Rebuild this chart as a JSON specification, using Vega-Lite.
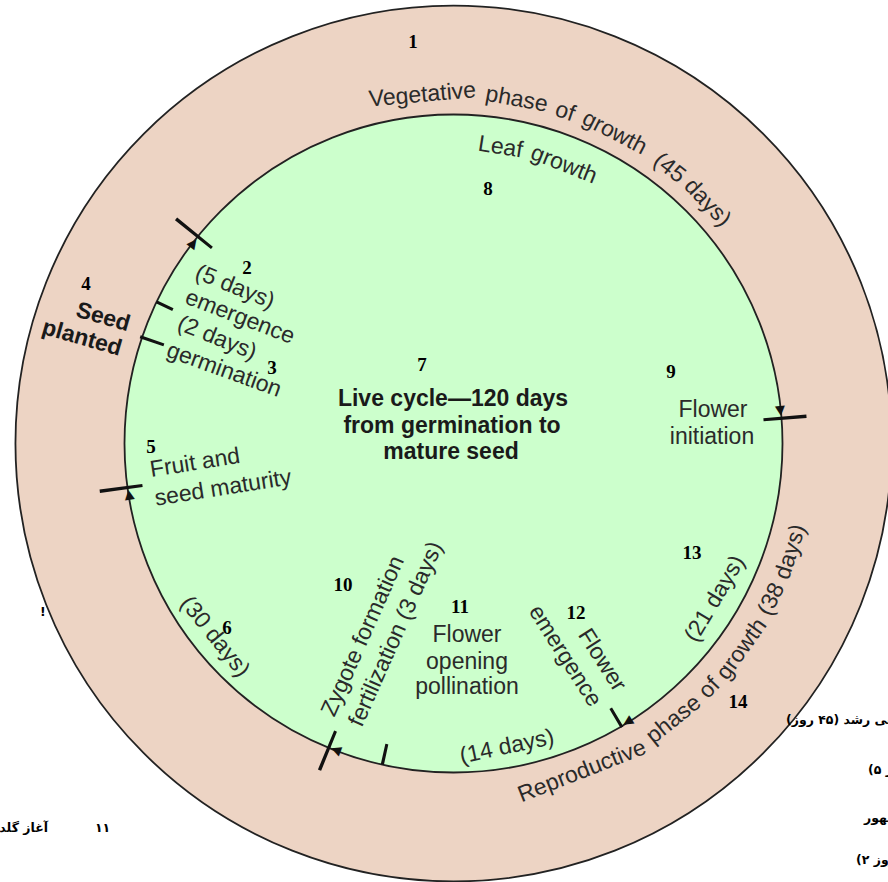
{
  "$schema": "https://vega.github.io/schema/vega-lite/v6.json",
  "autosize": {"type": "none"},
  "width": 869,
  "height": 877,
  "padding": {"left": 19, "top": 5, "right": 0, "bottom": 0},
  "background": "white",
  "config": {"view": {"stroke": null}},
  "datasets": {
    "rings": [
      {"ring": "outer", "t": 0, "t2": 360, "r0": 0, "r": 133.1},
      {"ring": "inner", "t": 0, "t2": 360, "r0": 0, "r": 100}
    ],
    "ticks": [
      {"t": 308.72, "t2": 309.28, "r0": 94.5, "r": 108.5},
      {"t": 295.22, "t2": 295.78, "r0": 94.5, "r": 100},
      {"t": 288.52, "t2": 289.08, "r0": 93.0, "r": 100.6},
      {"t": 85.32, "t2": 85.88, "r0": 94.5, "r": 107.6},
      {"t": 149.02, "t2": 149.58, "r0": 93.6, "r": 100.3},
      {"t": 192.22, "t2": 192.78, "r0": 93.6, "r": 100},
      {"t": 202.02, "t2": 202.58, "r0": 94.5, "r": 107.3},
      {"t": 262.02, "t2": 262.58, "r0": 95.4, "r": 108.5}
    ],
    "arrows": [
      {"t": 307.6, "r": 100},
      {"t": 84.3, "r": 100},
      {"t": 148.0, "r": 100},
      {"t": 201.0, "r": 100},
      {"t": 261.0, "r": 100}
    ],
    "arcText": [
      {"text": "Vegetative", "t": 354.9, "r": 106.4, "rot": -5.1},
      {"text": "phase", "t": 10.4, "r": 106.4, "rot": 10.4},
      {"text": "of", "t": 18.6, "r": 106.4, "rot": 18.6},
      {"text": "growth", "t": 27.4, "r": 106.4, "rot": 27.4},
      {"text": "(45", "t": 38.1, "r": 106.4, "rot": 38.1},
      {"text": "days)", "t": 46.5, "r": 106.4, "rot": 46.5},
      {"text": "Leaf", "t": 9.0, "r": 91.2, "rot": 9.0},
      {"text": "growth", "t": 21.6, "r": 91.2, "rot": 21.6},
      {"text": "Reproductive", "t": 158.6, "r": 107.0, "rot": -21.4},
      {"text": "phase", "t": 141.4, "r": 107.3, "rot": -38.6},
      {"text": "of", "t": 133.7, "r": 107.6, "rot": -46.3},
      {"text": "growth", "t": 125.5, "r": 107.6, "rot": -54.5},
      {"text": "(38", "t": 116.1, "r": 107.6, "rot": -63.9},
      {"text": "days)", "t": 107.8, "r": 107.6, "rot": -72.2},
      {"text": "(30 days)", "t": 231, "r": 93.3, "rot": 51},
      {"text": "(21 days)", "t": 120.7, "r": 92.4, "rot": -59.3},
      {"text": "(14 days)", "t": 170, "r": 93.6, "rot": -12}
    ],
    "labels": [
      {"text": "(5 days)", "x": -66.41, "y": 47.57, "rot": 22},
      {"text": "emergence", "x": -64.89, "y": 38.45, "rot": 21},
      {"text": "(2 days)", "x": -71.88, "y": 32.07, "rot": 22},
      {"text": "germination", "x": -69.76, "y": 22.34, "rot": 20},
      {"text": "Fruit and", "x": -78.57, "y": -5.93, "rot": -9},
      {"text": "seed maturity", "x": -70.06, "y": -13.53, "rot": -9},
      {"text": "Flower", "x": 78.88, "y": 10.18, "rot": 0},
      {"text": "initiation", "x": 78.57, "y": 1.98, "rot": 0},
      {"text": "Flower", "x": 4.10, "y": -58.21, "rot": 0},
      {"text": "opening", "x": 4.10, "y": -66.41, "rot": 0},
      {"text": "pollination", "x": 4.10, "y": -74.01, "rot": 0},
      {"text": "Zygote formation", "x": -27.51, "y": -58.51, "rot": -66},
      {"text": "fertilization (3 days)", "x": -17.48, "y": -57.90, "rot": -66},
      {"text": "emergence", "x": 33.89, "y": -64.59, "rot": 57.5},
      {"text": "Flower", "x": 45.14, "y": -65.81, "rot": 57.5}
    ],
    "bold": [
      {"text": "Seed", "x": -106.53, "y": 38.45, "rot": 16},
      {"text": "planted", "x": -112.92, "y": 32.07, "rot": 16},
      {"text": "Live cycle—120 days", "x": -0.15, "y": 13.53, "rot": 0},
      {"text": "from germination to", "x": -0.46, "y": 5.32, "rot": 0},
      {"text": "mature seed", "x": -0.76, "y": -2.58, "rot": 0}
    ],
    "nums": [
      {"text": "1", "x": -12.31, "y": 122.04},
      {"text": "8", "x": 10.49, "y": 77.36},
      {"text": "2", "x": -62.77, "y": 53.34},
      {"text": "4", "x": -111.70, "y": 48.48},
      {"text": "3", "x": -55.17, "y": 22.95},
      {"text": "7", "x": -9.57, "y": 23.86},
      {"text": "9", "x": 66.11, "y": 21.73},
      {"text": "5", "x": -91.95, "y": -1.06},
      {"text": "13", "x": 72.49, "y": -33.28},
      {"text": "10", "x": -33.59, "y": -42.96},
      {"text": "6", "x": -68.84, "y": -56.00},
      {"text": "11", "x": 1.98, "y": -49.70},
      {"text": "12", "x": 37.23, "y": -51.52},
      {"text": "14", "x": 86.47, "y": -78.57}
    ],
    "farsiLeft": [
      {"text": "گیاهی رشد (۴۵ روز)", "x": 101.06, "y": -84.04},
      {"text": "(۵ روز)", "x": 125.99, "y": -99.24},
      {"text": "ظهور", "x": 124.77, "y": -113.83},
      {"text": "(۲ روز)", "x": 122.34, "y": -126.60},
      {"text": "۱۱", "x": -109.0, "y": -116.87},
      {"text": "!", "x": -125.7, "y": -51.2}
    ],
    "farsiRight": [
      {"text": "آغاز گلدهی", "x": -123.25, "y": -116.87}
    ]
  },
  "layer": [
    {
      "data": {"name": "rings"},
      "mark": {"type": "arc", "stroke": "#222", "strokeWidth": 1.8},
      "encoding": {
        "theta": {"field": "t", "type": "quantitative", "stack": null, "scale": {"domain": [0, 360], "range": [0, 6.283185307179586]}},
        "theta2": {"field": "t2"},
        "radius": {"field": "r", "type": "quantitative", "scale": {"type": "linear", "domain": [0, 100], "range": [0, 329], "zero": true, "nice": false}},
        "radius2": {"field": "r0"},
        "color": {"field": "ring", "type": "nominal", "scale": {"domain": ["outer", "inner"], "range": ["#EDD4C4", "#CCFFCC"]}, "legend": null}
      }
    },
    {
      "data": {"name": "ticks"},
      "mark": {"type": "arc", "color": "#111"},
      "encoding": {
        "theta": {"field": "t", "type": "quantitative", "stack": null, "scale": {"domain": [0, 360], "range": [0, 6.283185307179586]}},
        "theta2": {"field": "t2"},
        "radius": {"field": "r", "type": "quantitative", "scale": {"type": "linear", "domain": [0, 100], "range": [0, 329], "zero": true, "nice": false}},
        "radius2": {"field": "r0"}
      }
    },
    {
      "data": {"name": "arrows"},
      "mark": {"type": "text", "text": "▶", "font": "DejaVu Sans", "fontSize": 13, "color": "#111", "align": "center", "baseline": "middle"},
      "encoding": {
        "theta": {"field": "t", "type": "quantitative", "stack": null, "scale": {"domain": [0, 360], "range": [0, 6.283185307179586]}},
        "radius": {"field": "r", "type": "quantitative", "scale": {"type": "linear", "domain": [0, 100], "range": [0, 329], "zero": true, "nice": false}},
        "angle": {"field": "t", "type": "quantitative", "scale": null}
      }
    },
    {
      "data": {"name": "arcText"},
      "mark": {"type": "text", "font": "Liberation Sans", "fontSize": 23, "color": "#2a2a2a", "align": "center", "baseline": "middle"},
      "encoding": {
        "theta": {"field": "t", "type": "quantitative", "stack": null, "scale": {"domain": [0, 360], "range": [0, 6.283185307179586]}},
        "radius": {"field": "r", "type": "quantitative", "scale": {"type": "linear", "domain": [0, 100], "range": [0, 329], "zero": true, "nice": false}},
        "angle": {"field": "rot", "type": "quantitative", "scale": null},
        "text": {"field": "text"}
      }
    },
    {
      "data": {"name": "labels"},
      "mark": {"type": "text", "font": "Liberation Sans", "fontSize": 23, "color": "#2a2a2a", "align": "center", "baseline": "middle"},
      "encoding": {
        "x": {"field": "x", "type": "quantitative", "scale": {"domain": [-132.07, 132.07], "nice": false, "zero": false}, "axis": null},
        "y": {"field": "y", "type": "quantitative", "scale": {"domain": [-133.28, 133.28], "nice": false, "zero": false}, "axis": null},
        "angle": {"field": "rot", "type": "quantitative", "scale": null},
        "text": {"field": "text"}
      }
    },
    {
      "data": {"name": "bold"},
      "mark": {"type": "text", "font": "Liberation Sans", "fontWeight": "bold", "fontSize": 23, "color": "#1a1a1a", "align": "center", "baseline": "middle"},
      "encoding": {
        "x": {"field": "x", "type": "quantitative", "scale": {"domain": [-132.07, 132.07], "nice": false, "zero": false}, "axis": null},
        "y": {"field": "y", "type": "quantitative", "scale": {"domain": [-133.28, 133.28], "nice": false, "zero": false}, "axis": null},
        "angle": {"field": "rot", "type": "quantitative", "scale": null},
        "text": {"field": "text"}
      }
    },
    {
      "data": {"name": "nums"},
      "mark": {"type": "text", "font": "Liberation Serif", "fontWeight": "bold", "fontSize": 19, "color": "#000", "align": "center", "baseline": "middle"},
      "encoding": {
        "x": {"field": "x", "type": "quantitative", "scale": {"domain": [-132.07, 132.07], "nice": false, "zero": false}, "axis": null},
        "y": {"field": "y", "type": "quantitative", "scale": {"domain": [-133.28, 133.28], "nice": false, "zero": false}, "axis": null},
        "text": {"field": "text"}
      }
    },
    {
      "data": {"name": "farsiLeft"},
      "mark": {"type": "text", "font": "DejaVu Sans", "fontWeight": "bold", "fontSize": 12.5, "color": "#000", "align": "left", "baseline": "middle"},
      "encoding": {
        "x": {"field": "x", "type": "quantitative", "scale": {"domain": [-132.07, 132.07], "nice": false, "zero": false}, "axis": null},
        "y": {"field": "y", "type": "quantitative", "scale": {"domain": [-133.28, 133.28], "nice": false, "zero": false}, "axis": null},
        "text": {"field": "text"}
      }
    },
    {
      "data": {"name": "farsiRight"},
      "mark": {"type": "text", "font": "DejaVu Sans", "fontWeight": "bold", "fontSize": 12.5, "color": "#000", "align": "right", "baseline": "middle"},
      "encoding": {
        "x": {"field": "x", "type": "quantitative", "scale": {"domain": [-132.07, 132.07], "nice": false, "zero": false}, "axis": null},
        "y": {"field": "y", "type": "quantitative", "scale": {"domain": [-133.28, 133.28], "nice": false, "zero": false}, "axis": null},
        "text": {"field": "text"}
      }
    }
  ]
}
